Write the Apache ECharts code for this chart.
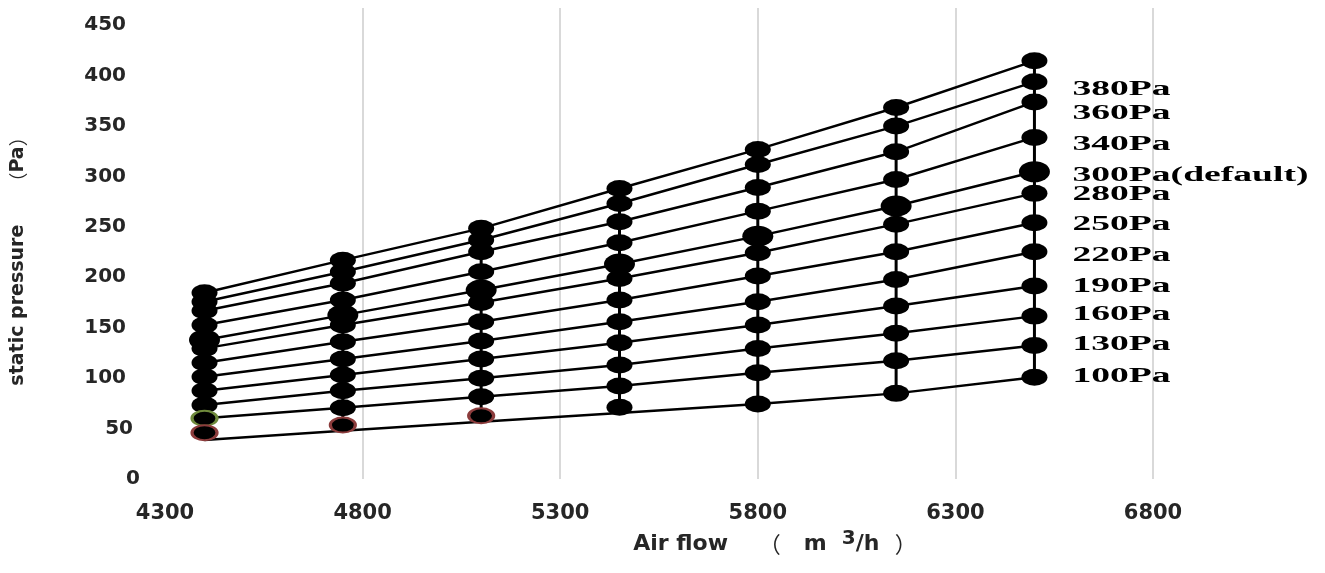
<!DOCTYPE html>
<html>
<head>
<meta charset="utf-8">
<script src="https://cdn.jsdelivr.net/npm/echarts@6/dist/echarts.min.js"></script>
<style>
html,body{margin:0;padding:0;background:#fff;}
#main{width:1325px;height:573px;}
</style>
</head>
<body>
<div id="main"></div>
<script>
// Air flow (m3/h) of each marker column
const airflow = [4400, 4750, 5100, 5450, 5800, 6150, 6500];

// Static pressure (Pa) at each marker, one value per air-flow column
const curveTop = [184.6, 217.0, 248.5, 288.1, 326.8, 368.4, 414.6];
const curve380 = [175.7, 205.5, 236.9, 273.2, 311.9, 349.9, 393.8];
const curve360 = [166.8, 194.0, 225.3, 255.0, 289.1, 324.4, 373.9];
const curve340 = [152.6, 177.4, 205.5, 234.2, 265.6, 297.0, 338.7];
const curve300 = [137.8, 162.5, 187.3, 213.1, 240.8, 270.6, 304.6];
const curve280 = [129.5, 152.6, 175.1, 198.9, 224.3, 252.7, 283.2];
const curve250 = [115.3, 136.1, 155.9, 177.4, 201.2, 225.3, 254.0];
const curve220 = [101.4, 118.9, 136.8, 155.9, 175.7, 197.9, 225.3];
const curve190 = [87.5, 103.1, 118.9, 135.1, 152.6, 171.5, 191.3];
const curve160 = [73.3, 87.5, 99.8, 113.0, 129.5, 144.4, 161.5];
const curve130 = [60.2, 70.7, 81.6, 92.2, 105.4, 117.2, 132.4];
const curve100 = [45.9, 53.5, 62.7, 71.1, 74.3, 84.9, 100.8];
// The lowest connecting line runs a little under its first markers
const curve100Line = [38.7, 47.8, 56.8, 65.5, 74.3, 84.9, 100.8];

const curves = [curveTop, curve380, curve360, curve340, curve300, curve280,
                curve250, curve220, curve190, curve160, curve130, curve100];
const lineCurves = [curveTop, curve380, curve360, curve340, curve300, curve280,
                    curve250, curve220, curve190, curve160, curve130, curve100Line];

// Right-hand setting labels and the pressure level each one sits at
const settingLabels = ['380Pa', '360Pa', '340Pa', '300Pa(default)', '280Pa', '250Pa',
                       '220Pa', '190Pa', '160Pa', '130Pa', '100Pa'];
const settingLabelPa = [385.5, 361.7, 330.9, 300.3, 281.5, 251.7, 221.0, 190.3, 162.5, 132.8, 101.1];

// Axis ticks
const xTicks = {min: 4300, max: 6800, step: 500};
const yTicks = {min: 0, max: 467, step: 50};

const DEFAULT_ROW = 4;

const series = [];
lineCurves.forEach((c) => {
  series.push({
    type: 'line',
    data: airflow.map((x, j) => [x, c[j]]),
    symbol: 'none',
    lineStyle: {color: '#000', width: 2.5},
    z: 2,
    silent: true
  });
});
airflow.forEach((x, j) => {
  series.push({
    type: 'line',
    data: curves.map((c, i) => {
      const item = {value: [x, c[j]]};
      if (i === DEFAULT_ROW) item.symbolSize = [31, 21];
      if (i === curves.length - 1 && j < 3) {
        item.symbolSize = [25, 15];
        item.itemStyle = {color: '#000', borderColor: '#8c3c3c', borderWidth: 2.5};
      }
      if (i === curves.length - 2 && j === 0) {
        item.symbolSize = [25, 15];
        item.itemStyle = {color: '#000', borderColor: '#6f8a3c', borderWidth: 2.5};
      }
      return item;
    }),
    symbol: 'circle',
    symbolSize: [26, 17],
    itemStyle: {color: '#000'},
    lineStyle: {color: '#000', width: 3},
    z: 3,
    silent: true
  });
});

const LATIN = 'DejaVu Sans';
const CJK = '"Noto Sans CJK SC"';
const yLabelStyle = {fontFamily: LATIN, fontWeight: 'bold', fontSize: 20, color: '#262626'};

const option = {
  animation: false,
  backgroundColor: '#fff',
  grid: {left: 165, right: 172, top: 8, bottom: 94, containLabel: false},
  xAxis: {
    type: 'value',
    min: xTicks.min, max: xTicks.max, interval: xTicks.step,
    axisLine: {show: false},
    axisTick: {show: false},
    splitLine: {show: true, showMinLine: false, lineStyle: {color: '#d9d9d9', width: 2}},
    axisLabel: {
      margin: 24,
      color: '#262626',
      fontFamily: LATIN, fontWeight: 'bold', fontSize: 21,
      formatter: v => String(v)
    },
    name: '{a|Air flow    }{p|（}{a|   m  }{s|3}{a|/h  }{p|）}',
    nameLocation: 'middle',
    nameGap: 50,
    nameTextStyle: {
      padding: [0, 0, 0, 232],
      rich: {
        a: {fontFamily: LATIN, fontWeight: 'bold', fontSize: 22, color: '#262626'},
        p: {fontFamily: CJK, fontWeight: 'normal', fontSize: 22, color: '#262626'},
        s: {fontFamily: LATIN, fontWeight: 'bold', fontSize: 20, color: '#262626', padding: [0, 0, 10, 0], verticalAlign: 'bottom'}
      }
    }
  },
  yAxis: {
    type: 'value',
    min: yTicks.min, max: yTicks.max, interval: yTicks.step,
    axisLine: {show: false},
    axisTick: {show: false},
    splitLine: {show: false},
    axisLabel: {
      margin: 25,
      showMaxLabel: false,
      formatter: v => {
        if (v % yTicks.step !== 0) return '';
        const s = String(v);
        return '{d' + s.length + '|' + s + '}';
      },
      rich: {
        d1: Object.assign({padding: [0, 0, 0, 0]}, yLabelStyle),
        d2: Object.assign({padding: [0, 7, 0, 0]}, yLabelStyle),
        d3: Object.assign({padding: [0, 14, 0, 0]}, yLabelStyle)
      }
    },
    name: '{a|static pressure     }{p|（}{a|Pa}{p|）}',
    nameLocation: 'middle',
    nameRotate: 90,
    nameGap: 137,
    nameTextStyle: {
      padding: [0, 26, 0, 0],
      rich: {
        a: {fontFamily: LATIN, fontWeight: 'bold', fontSize: 19, color: '#262626'},
        p: {fontFamily: CJK, fontWeight: 'normal', fontSize: 19, color: '#262626'}
      }
    }
  },
  series: series
};

const chart = echarts.init(document.getElementById('main'), null, {renderer: 'canvas'});
chart.setOption(option);

const lastX = airflow[airflow.length - 1];
const graphics = settingLabels.map((t, i) => {
  const p = chart.convertToPixel({gridIndex: 0}, [lastX, settingLabelPa[i]]);
  return {
    type: 'text',
    x: p[0] + 38,
    y: p[1],
    scaleX: 1.88,
    silent: true,
    z: 10,
    style: {
      text: t,
      font: 'bold 20px "Liberation Serif"',
      fill: '#000',
      textAlign: 'left', align: 'left',
      textVerticalAlign: 'middle', verticalAlign: 'middle'
    }
  };
});
chart.setOption({graphic: graphics});
</script>
</body>
</html>
